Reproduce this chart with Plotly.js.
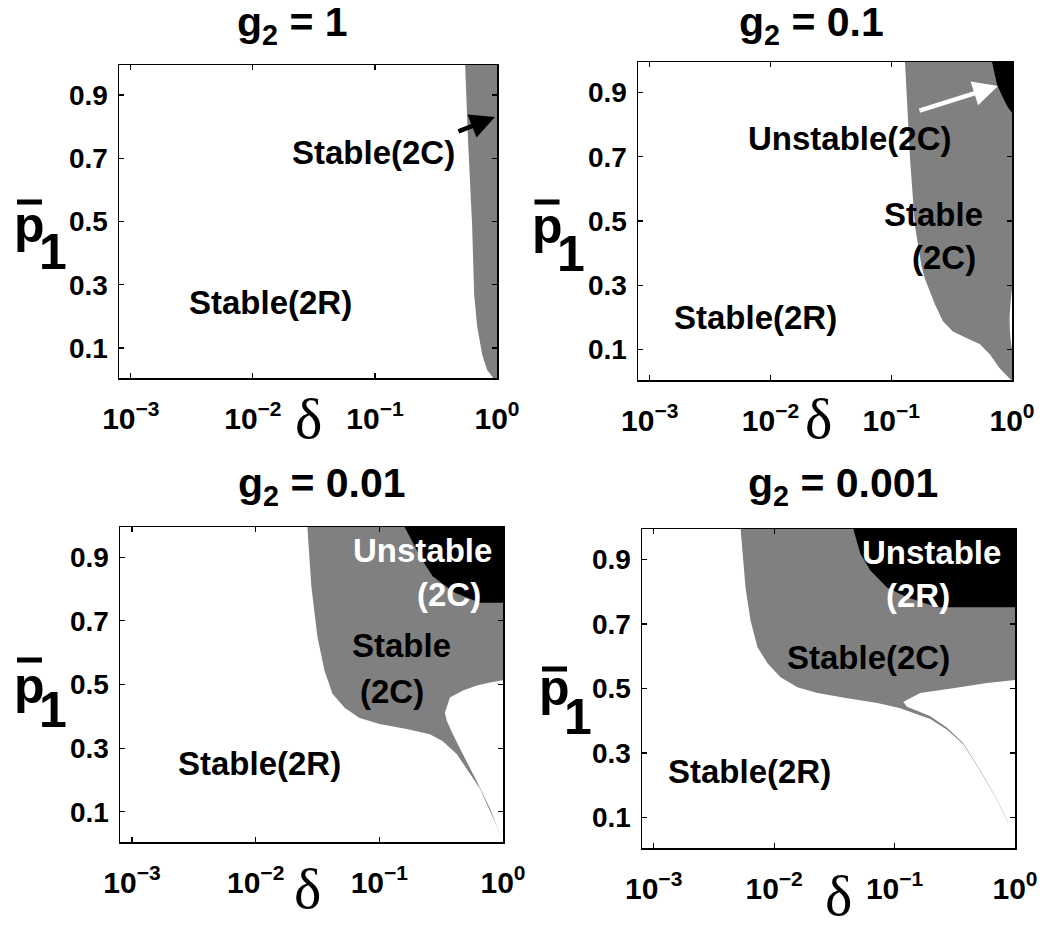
<!DOCTYPE html>
<html><head><meta charset="utf-8">
<script src="https://cdn.plot.ly/plotly-3.0.1.min.js"></script>
<style>html,body{margin:0;padding:0;background:#fff}#chart{width:1050px;height:929px}</style>
</head><body><div id="chart"></div>
<script>
// ---------- data ----------
const g2Values = ['1', '0.1', '0.01', '0.001'];
const xTickVals = [0.001, 0.01, 0.1, 1];
const xTickText = ['10<sup>−3</sup>', '10<sup>−2</sup>', '10<sup>−1</sup>', '10<sup>0</sup>'];
const yTickVals = [0.1, 0.3, 0.5, 0.7, 0.9];
const yTickText = ['0.1', '0.3', '0.5', '0.7', '0.9'];
const xAxisLabel = 'δ';
const yAxisLabel = 'p';
const yAxisSub = '1';

// g2 = 1 : Stable(2C) region (gray)
const g1GrayDelta = [0.548, 0.58, 0.625, 0.65, 0.687, 0.755, 0.83, 0.93, 1, 1];
const g1GrayP     = [0.995, 0.75, 0.49, 0.27, 0.17, 0.08, 0.03, 0.005, 0.005, 0.995];

// g2 = 0.1
const g01GrayDelta = [0.130, 0.143, 0.157, 0.178, 0.190, 0.230, 0.268, 0.324, 0.424, 0.543, 0.657, 0.796, 0.96, 1, 1];
const g01GrayP     = [0.995, 0.696, 0.486, 0.36, 0.32, 0.241, 0.188, 0.156, 0.135, 0.116, 0.084, 0.04, 0.009, 0.005, 0.995];
const g01BlackDelta = [0.683, 0.751, 0.842, 0.927, 1, 1];
const g01BlackP     = [0.995, 0.925, 0.884, 0.853, 0.837, 0.995];
const g01WhiteDelta = [1, 0.975, 0.955, 0.96, 0.975, 1];
const g01WhiteP     = [0.29, 0.25, 0.2, 0.16, 0.13, 0.10];

// g2 = 0.01
const g001GrayDelta = [0.0262, 0.0282, 0.0316, 0.036, 0.0418, 0.0524, 0.0692, 0.1005, 0.166, 0.256, 0.326, 0.424, 0.65, 0.861, 1,
                       0.785, 0.615, 0.474, 0.393, 0.351, 0.339, 0.372, 0.474, 0.615, 0.785, 1, 1];
const g001GrayP     = [0.995, 0.808, 0.649, 0.544, 0.471, 0.427, 0.395, 0.376, 0.36, 0.344, 0.322, 0.281, 0.173, 0.068, 0.005,
                       0.11, 0.195, 0.281, 0.344, 0.386, 0.411, 0.459, 0.481, 0.497, 0.506, 0.513, 0.995];
const g001BlackDelta = [0.160, 0.22, 0.27, 0.40, 0.65, 1, 1];
const g001BlackP     = [0.995, 0.894, 0.84, 0.79, 0.757, 0.757, 0.995];

// g2 = 0.001
const g0001GrayDelta = [0.00527, 0.00579, 0.00637, 0.00728, 0.00881, 0.0113, 0.0156, 0.0229, 0.0406, 0.0719, 0.1114, 0.198, 0.273, 0.371, 0.513, 0.71, 0.875,
                        0.875, 0.71, 0.513, 0.371, 0.273, 0.198, 0.163, 0.127, 0.118, 0.163, 0.306, 0.586, 1, 1];
const g0001GrayP     = [0.995, 0.813, 0.711, 0.628, 0.578, 0.535, 0.504, 0.486, 0.47, 0.455, 0.439, 0.405, 0.372, 0.328, 0.245, 0.153, 0.083,
                        0.085, 0.155, 0.247, 0.331, 0.378, 0.414, 0.427, 0.443, 0.458, 0.486, 0.501, 0.517, 0.526, 0.995];
const g0001BlackDelta = [0.0455, 0.052, 0.063, 0.087, 0.127, 0.226, 1, 1];
const g0001BlackP     = [0.995, 0.918, 0.866, 0.813, 0.783, 0.752, 0.752, 0.995];

// ---------- drawing ----------
const W = 1050, H = 929;
const FONT = 'Liberation Sans, Arial, Helvetica, sans-serif';
const px = (x) => x / W;
const py = (y) => 1 - y / H;

const GRAY = '#808080', BLACK = '#000000', WHITE = '#ffffff';

function region(dx, py_, color, n) {
  const sfx = n === 1 ? '' : String(n);
  return {type: 'scatter', mode: 'none', x: dx, y: py_, fill: 'toself', fillcolor: color,
          xaxis: 'x' + sfx, yaxis: 'y' + sfx, hoverinfo: 'skip', showlegend: false};
}

const traces = [
  region(g1GrayDelta, g1GrayP, GRAY, 1),
  region(g01GrayDelta, g01GrayP, GRAY, 2),
  region(g01BlackDelta, g01BlackP, BLACK, 2),
  region(g01WhiteDelta, g01WhiteP, WHITE, 2),
  region(g001GrayDelta, g001GrayP, GRAY, 3),
  region(g001BlackDelta, g001BlackP, BLACK, 3),
  region(g0001GrayDelta, g0001GrayP, GRAY, 4),
  region(g0001BlackDelta, g0001BlackP, BLACK, 4)
];

const domains = [
  {x: [119, 497], y: [65, 378]},
  {x: [638, 1012], y: [62, 380]},
  {x: [120, 503], y: [527, 842]},
  {x: [642, 1015], y: [529, 848]}
];

const xTickFont = {family: FONT, size: 30, color: '#000', weight: 'bold'};
const yTickFont = {family: FONT, size: 28, color: '#000', weight: 'bold'};
const layout = {
  width: W, height: H, margin: {l: 0, r: 0, t: 0, b: 0},
  paper_bgcolor: '#fff', plot_bgcolor: '#fff', showlegend: false,
  annotations: [], shapes: []
};

domains.forEach((d, i) => {
  const sfx = i === 0 ? '' : String(i + 1);
  layout['xaxis' + sfx] = {
    type: 'log', range: [Math.log10(0.0008), 0], domain: [px(d.x[0]), px(d.x[1])],
    anchor: 'y' + sfx, tickvals: xTickVals, ticktext: xTickText, tickfont: xTickFont,
    ticks: 'inside', ticklen: 5, tickwidth: 1.2, tickcolor: '#000',
    showline: true, linecolor: '#000', linewidth: 1.5, mirror: 'ticks',
    showgrid: false, zeroline: false, ticklabelstandoff: 13, fixedrange: true
  };
  layout['yaxis' + sfx] = {
    range: [0.005, 0.995], domain: [py(d.y[1]), py(d.y[0])],
    anchor: 'x' + sfx, tickvals: yTickVals, ticktext: yTickText, tickfont: yTickFont,
    ticks: 'inside', ticklen: 5, tickwidth: 1.2, tickcolor: '#000',
    showline: true, linecolor: '#000', linewidth: 1.5, mirror: 'ticks',
    showgrid: false, zeroline: false, ticklabelstandoff: 4, fixedrange: true
  };
});

function txt(text, x, y, size, color, family) {
  layout.annotations.push({
    text: text, x: px(x), y: py(y), xref: 'paper', yref: 'paper',
    xanchor: 'center', yanchor: 'middle', showarrow: false,
    font: {family: family || FONT, size: size, color: color || '#000', weight: 'bold'}
  });
}
function arrow(x0, y0, x1, y1, color) {
  layout.annotations.push({
    text: '', x: px(x1), y: py(y1), xref: 'paper', yref: 'paper',
    ax: x0 - x1, ay: y0 - y1, axref: 'pixel', ayref: 'pixel',
    showarrow: true, arrowhead: 2, arrowsize: 1.1, arrowwidth: 4.5, arrowcolor: color
  });
}

// titles
const titlePos = [[292, 25], [811, 25], [322, 486], [843, 486]];
g2Values.forEach((v, i) => txt('g<sub>2</sub> = ' + v, titlePos[i][0], titlePos[i][1], 41));

// axis labels
const deltaPos = [[308, 418], [818, 418], [307, 888], [838, 895]];
deltaPos.forEach(p => layout.annotations.push({
  text: xAxisLabel, x: px(p[0]), y: py(p[1]), xref: 'paper', yref: 'paper',
  xanchor: 'center', yanchor: 'middle', showarrow: false,
  font: {family: 'Liberation Serif, Times New Roman, serif', size: 58, color: '#000'}
}));
const pPos = [[29.5, 225, 53, 252, 202], [547, 226, 571, 254, 202], [29.5, 686, 53, 710, 660], [554.5, 688, 578, 717, 669]];
pPos.forEach(p => {
  txt(yAxisLabel, p[0], p[1], 50);
  txt(yAxisSub, p[2], p[3], 50);
  layout.shapes.push({type: 'line', xref: 'paper', yref: 'paper',
    x0: px(p[0] - 12.5), x1: px(p[0] + 12.5), y0: py(p[4]), y1: py(p[4]),
    line: {color: '#000', width: 5}});
});

// region labels
txt('Stable(2C)', 373, 152, 33);
txt('Stable(2R)', 270, 302, 33);
txt('Unstable(2C)', 850, 139, 33);
txt('Stable', 933, 215, 33);
txt('(2C)', 944, 257, 33);
txt('Stable(2R)', 755, 317, 33);
txt('Unstable', 422, 550, 33, '#fff');
txt('(2C)', 449, 594, 33, '#fff');
txt('Stable', 401, 645, 33);
txt('(2C)', 392, 691, 33);
txt('Stable(2R)', 259, 763, 33);
txt('Unstable', 931, 552, 33, '#fff');
txt('(2R)', 918, 595, 33, '#fff');
txt('Stable(2C)', 868, 657, 33);
txt('Stable(2R)', 749, 771, 33);

// arrows
arrow(457, 132, 495, 117, '#000');
arrow(918, 111, 998, 86, '#fff');

Plotly.newPlot('chart', traces, layout, {staticPlot: true, displayModeBar: false});
</script>
</body></html>
